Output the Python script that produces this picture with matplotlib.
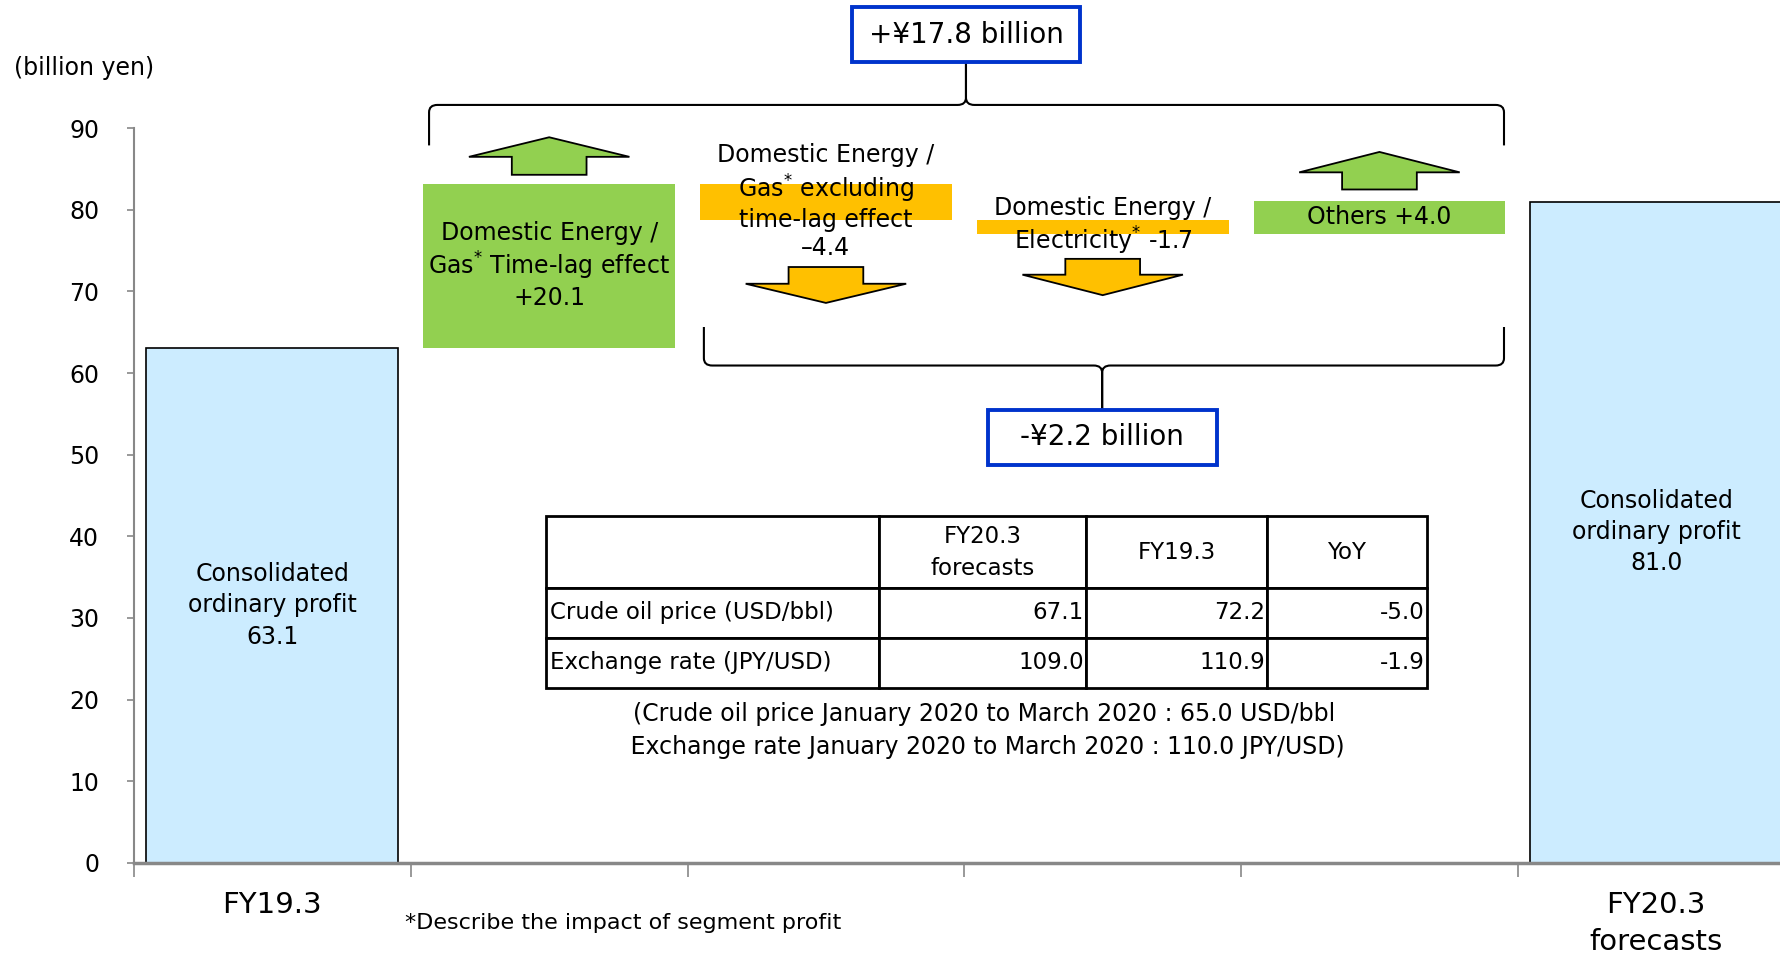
import matplotlib.pyplot as plt
import numpy as np
from matplotlib.patches import Rectangle, Polygon, PathPatch
from matplotlib.path import Path

plt.rcParams['font.family'] = ['DejaVu Sans']

# chart data (billion yen)
categories = ['FY19.3', 'Gas time-lag', 'Gas excl. time-lag', 'Electricity', 'Others', 'FY20.3 forecasts']
values = [63.1, 20.1, -4.4, -1.7, 4.0, 81.0]
is_total = [True, False, False, False, False, True]
bar_labels = ['Consolidated\nordinary profit\n63.1',
              'Domestic Energy /\nGas$^{*}$ Time-lag effect\n+20.1',
              'Domestic Energy /\nGas$^{*}$ excluding\ntime-lag effect\n\u20134.4',
              'Domestic Energy /\nElectricity$^{*}$ -1.7',
              'Others +4.0',
              'Consolidated\nordinary profit\n81.0']
xtick_labels = ['FY19.3', '', '', '', '', 'FY20.3\nforecasts']
yticks = [0, 10, 20, 30, 40, 50, 60, 70, 80, 90]

top_total = '+\u00a517.8 billion'
bottom_total = '-\u00a52.2 billion'

# table data
table_cols = ['', 'FY20.3\nforecasts', 'FY19.3', 'YoY']
table_rows = ['Crude oil price (USD/bbl)', 'Exchange rate (JPY/USD)']
table_fy20 = [67.1, 109.0]
table_fy19 = [72.2, 110.9]
table_yoy = [-5.0, -1.9]
table_note = ('(Crude oil price January 2020 to March 2020 : 65.0 USD/bbl\n'
              ' Exchange rate January 2020 to March 2020 : 110.0 JPY/USD)')

# waterfall bottoms / heights
bottoms, heights, colors, edges = [], [], [], []
running = 0.0
for v, tot in zip(values, is_total):
    if tot:
        bottoms.append(0.0)
        heights.append(v)
        running = v
        colors.append('#CCECFF')
        edges.append('black')
    else:
        bottoms.append(running + min(v, 0))
        heights.append(abs(v))
        running += v
        colors.append('#92D050' if v > 0 else '#FFC000')
        edges.append('none')

fig = plt.figure(figsize=(17.8, 9.58), dpi=100)
ax = fig.add_axes([0.0753, 0.0994, 0.9329, 0.7667])

x = np.arange(len(values))
ax.bar(x, heights, bottom=bottoms, width=0.91, color=colors, edgecolor=edges, linewidth=1.2)

for i in x:
    lsp = 1.2 if '$' in bar_labels[i] else 1.38
    ax.text(i, bottoms[i] + heights[i] / 2, bar_labels[i], ha='center', va='center',
            fontsize=17, linespacing=lsp)

ax.set_xlim(-0.5, 5.5)
ax.set_ylim(0, 90)
ax.set_yticks(yticks)
ax.set_xticks(np.arange(-0.5, 5.0, 1.0))
ax.set_xticklabels([])
ax.set_xticks(x, minor=True)
ax.set_xticklabels(xtick_labels, minor=True, fontsize=21, va='top', linespacing=1.45)
ax.tick_params(axis='x', which='major', length=10, color='#888888', width=1.2)
ax.tick_params(axis='x', which='minor', length=0, pad=20)
ax.tick_params(axis='y', length=5, color='#888888', width=1.2, pad=20, labelsize=17)
for s in ['top', 'right']:
    ax.spines[s].set_visible(False)
ax.spines['left'].set_color('#888888')
ax.spines['left'].set_linewidth(1.5)
ax.spines['bottom'].set_color('#888888')
ax.spines['bottom'].set_linewidth(2.5)


def block_arrow(xc, y_tail, y_neck, y_tip, color, hw=0.29, sw=0.135):
    pts = [(xc - sw, y_tail), (xc - sw, y_neck), (xc - hw, y_neck), (xc, y_tip),
           (xc + hw, y_neck), (xc + sw, y_neck), (xc + sw, y_tail)]
    ax.add_patch(Polygon(pts, closed=True, facecolor=color, edgecolor='black', linewidth=1.3))


block_arrow(1, 84.3, 86.5, 88.9, '#92D050')
block_arrow(4, 82.5, 84.6, 87.1, '#92D050')
block_arrow(2, 73.0, 70.95, 68.6, '#FFC000')
block_arrow(3, 74.0, 72.06, 69.55, '#FFC000')


def brace(x0, x1, xc, y_h, y_end, y_tip, rx=0.03, ry=0.9):
    s = np.sign(y_tip - y_h)
    verts = [(x0, y_end), (x0, y_h - s * ry), (x0, y_h), (x0 + rx, y_h),
             (xc - rx, y_h), (xc, y_h), (xc, y_h + s * ry), (xc, y_tip),
             (xc, y_h + s * ry), (xc, y_h), (xc + rx, y_h),
             (x1 - rx, y_h), (x1, y_h), (x1, y_h - s * ry), (x1, y_end)]
    codes = [Path.MOVETO, Path.LINETO, Path.CURVE3, Path.CURVE3,
             Path.LINETO, Path.CURVE3, Path.CURVE3, Path.LINETO,
             Path.LINETO, Path.CURVE3, Path.CURVE3,
             Path.LINETO, Path.CURVE3, Path.CURVE3, Path.LINETO]
    ax.add_patch(PathPatch(Path(verts, codes), fill=False, edgecolor='black',
                           linewidth=1.5, clip_on=False))


brace(0.566, 4.45, 2.506, 92.86, 87.9, 98.1)
brace(1.559, 4.45, 2.998, 60.93, 65.65, 55.5)


def total_box(x0, y0, w, h, label):
    ax.add_patch(Rectangle((x0, y0), w, h, facecolor='white', edgecolor='#0033CC',
                           linewidth=2.8, clip_on=False, zorder=3))
    ax.text(x0 + w / 2, y0 + h / 2, label, ha='center', va='center', fontsize=20,
            clip_on=False, zorder=4)


total_box(2.095, 98.1, 0.824, 6.7, top_total)
total_box(2.584, 48.8, 0.829, 6.7, bottom_total)

# table
cell_text = [table_cols] + [[r, f'{a:.1f}', f'{b:.1f}', f'{c:.1f}']
                            for r, a, b, c in zip(table_rows, table_fy20, table_fy19, table_yoy)]
tbl = ax.table(cellText=cell_text, colWidths=[0.3776, 0.2357, 0.2049, 0.1817],
               cellLoc='right', bbox=[0.2481, 0.238, 0.5305, 0.2335])
tbl.auto_set_font_size(False)
tbl.set_fontsize(16.5)
for (r, c), cell in tbl.get_celld().items():
    cell.set_linewidth(2)
    cell.PAD = 0.012
    if r == 0:
        cell._loc = 'center'
        cell.get_text().set_horizontalalignment('center')
        cell.get_text().set_linespacing(1.5)
        cell.set_height(cell.get_height() * 1.43)
    elif c == 0:
        cell._loc = 'left'
        cell.get_text().set_horizontalalignment('left')

ax.text(2.57, 16.2, table_note, ha='center', va='center', fontsize=17, linespacing=1.5)

fig.text(0.0076, 0.929, '(billion yen)', fontsize=17, va='center')
fig.text(0.2277, 0.0365, '*Describe the impact of segment profit', fontsize=16, va='center')

fig.savefig('out.png', dpi=100)
